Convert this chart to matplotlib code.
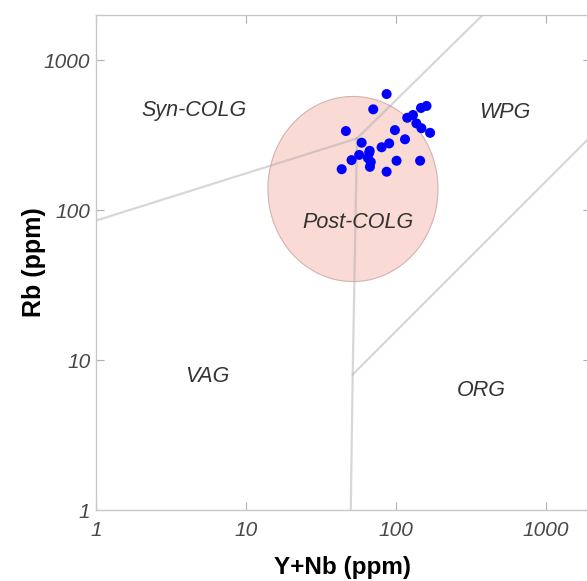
import numpy as np
import matplotlib
matplotlib.use('Agg')
import matplotlib.pyplot as plt

#========= Sample data (ppm) ===========
yn = [86.7, 70.6, 160, 147, 119, 130, 137, 148, 169, 98.5, 46.4, 115, 59.1, 90.2,
      80.3, 66.4, 56.9, 50.6, 65.1, 67.1, 101, 145, 43.5, 86.7, 68, 66.8]
rb = [593, 469, 494, 479, 412, 430, 378, 351, 327, 341, 336, 296, 281, 278,
      262, 241, 233, 215, 222, 194, 213, 213, 187, 180, 209, 248]

#========= Pearce et al. (1984) field boundaries ===========
syn_vag_x = [1, 55];        syn_vag_y = [85, 300]
syn_wpg_x = [55, 380];      syn_wpg_y = [300, 2000]
vag_wpg_x = [55, 51.5, 50]; vag_wpg_y = [300, 8, 1]
wpg_org_x = [51.5, 2000];   wpg_org_y = [8, 310]

# post-collisional field (ellipse in log space)
pc_cx, pc_cy = 51.7, 138
pc_rx, pc_ry = 0.567, 0.617

fields = ['Syn-COLG', 'WPG', 'Post-COLG', 'VAG', 'ORG']
field_x = [4.5, 533, 55.6, 5.5, 374]
field_y = [464, 450, 82, 7.8, 6.3]

ticks = [1, 10, 100, 1000]
tick_labels = ['1', '10', '100', '1000']

plt.rcParams['font.family'] = ['Liberation Sans', 'DejaVu Sans']

fig = plt.figure(figsize=(5.87, 5.81), dpi=100)
ax = fig.add_axes([96/587, 71/581, 495/587, 495.15/581])
ax.set_xscale('log')
ax.set_yscale('log')
ax.set_xlim(1, 2000)
ax.set_ylim(1, 2000)

t = np.linspace(0, 2*np.pi, 300)
ex = 10**(np.log10(pc_cx) + pc_rx*np.cos(t))
ey = 10**(np.log10(pc_cy) + pc_ry*np.sin(t))
ax.fill(ex, ey, facecolor='#f9dad4', edgecolor='#d2b4b0', lw=0.8, zorder=1)

lc = dict(color='#a8a8a8', alpha=0.45, lw=1.6, zorder=2)
ax.plot(syn_vag_x, syn_vag_y, **lc)
ax.plot(syn_wpg_x, syn_wpg_y, **lc)
ax.plot(vag_wpg_x, vag_wpg_y, **lc)
ax.plot(wpg_org_x, wpg_org_y, **lc)

ax.scatter(yn, rb, s=52, color='#0000ff', edgecolors='none', zorder=3)

for name, fx, fy in zip(fields, field_x, field_y):
    ax.text(fx, fy, name, fontsize=15.5, style='italic', color='#333333',
            ha='center', va='center', zorder=4)

ax.set_xticks(ticks, tick_labels)
ax.set_yticks(ticks, tick_labels)
ax.xaxis.set_minor_locator(plt.NullLocator())
ax.yaxis.set_minor_locator(plt.NullLocator())
ax.tick_params(direction='in', top=True, right=True, length=6, width=0.8,
               color='#b0b0b0', labelcolor='#484848', labelsize=15)
ax.tick_params(axis='x', pad=8)
ax.tick_params(axis='y', pad=4)
for lab in ax.get_xticklabels() + ax.get_yticklabels():
    lab.set_style('italic')
for sp in ax.spines.values():
    sp.set_color('#c8c8c8')
    sp.set_linewidth(1.0)

ax.set_xlabel('Y+Nb (ppm)', fontsize=17.5, fontweight='bold')
ax.set_ylabel('Rb (ppm)', fontsize=18, fontweight='bold')
ax.xaxis.set_label_coords(0.497, -0.093)
ax.yaxis.set_label_coords(-0.101, 0.5)

fig.savefig('out.png', dpi=100)
